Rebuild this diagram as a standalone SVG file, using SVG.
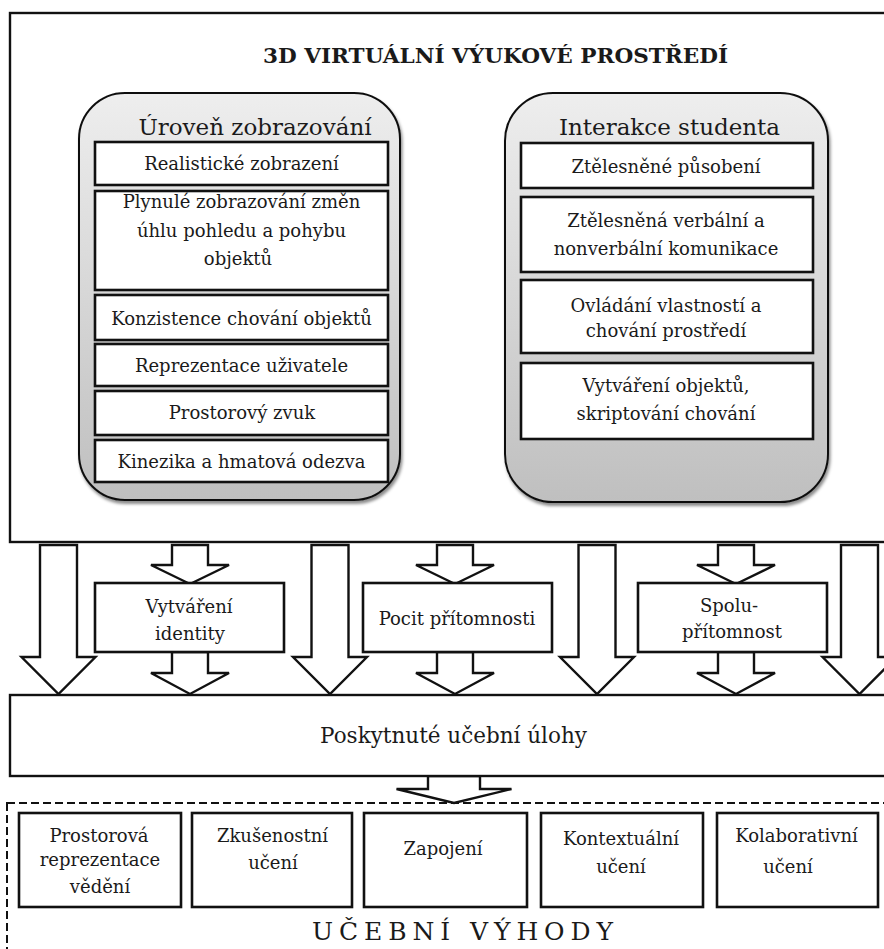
<svg xmlns="http://www.w3.org/2000/svg" width="884" height="949" viewBox="0 0 884 949" font-family="DejaVu Serif, serif">
<style>
text{font-family:'DejaVu Serif','Liberation Serif',serif;fill:#1a1a1a;}
.t{font-size:18px;text-anchor:middle;}
.h{font-size:23px;text-anchor:middle;}
.box{fill:#fff;stroke:#111;stroke-width:2.6;}
.frame{fill:#fff;stroke:#111;stroke-width:2.4;}
.panel{fill:url(#pg);stroke:#111;stroke-width:2;filter:url(#sh);}
.arr{fill:#fff;stroke:#111;stroke-width:2.4;stroke-linejoin:miter;}
.dash{fill:none;stroke:#111;stroke-width:2;stroke-dasharray:8 4;}
</style>
<defs>
<linearGradient id="pg" x1="0" y1="0" x2="0" y2="1">
<stop offset="0" stop-color="#eeeeee"/>
<stop offset="1" stop-color="#bfbfbf"/>
</linearGradient>
<filter id="sh" x="-10%" y="-10%" width="120%" height="120%">
<feDropShadow dx="1.5" dy="3" stdDeviation="1.8" flood-color="#000" flood-opacity="0.45"/>
</filter>
<path id="bigArrow" d="M-18.5,0 H18.5 V112 H37 L0,149 L-37,112 H-18.5 Z"/>
<path id="smallTop" d="M-18,0 H18 V20 H39 L0,39 L-39,20 H-18 Z"/>
<path id="smallBot" d="M-18,0 H18 V21 H39 L0,42 L-39,21 H-18 Z"/>
</defs>
<rect width="884" height="949" fill="#fff"/>

<g id="env">
<rect class="frame" x="10" y="13" width="900" height="529"/>
<text x="495.5" y="63" font-size="20.5" font-weight="bold" text-anchor="middle" textLength="465" lengthAdjust="spacingAndGlyphs">3D VIRTUÁLNÍ VÝUKOVÉ PROSTŘEDÍ</text>
</g>

<g id="panel-zobrazovani">
<rect class="panel" x="79" y="93" width="321" height="407" rx="46" ry="46"/>
<text class="h" x="255" y="135">Úroveň zobrazování</text>
</g>
<g id="n-realisticke"><rect class="box" x="95" y="142" width="293" height="43"/><text class="t" x="241.5" y="170">Realistické zobrazení</text></g>
<g id="n-plynule"><rect class="box" x="95" y="191" width="293" height="99"/>
<text class="t" x="241.5" y="208">Plynulé zobrazování změn</text>
<text class="t" x="241.5" y="237">úhlu pohledu a pohybu</text>
<text class="t" x="238" y="265">objektů</text></g>
<g id="n-konzistence"><rect class="box" x="95" y="295" width="293" height="45"/><text class="t" x="241.5" y="325">Konzistence chování objektů</text></g>
<g id="n-reprezentace"><rect class="box" x="95" y="344" width="293" height="42"/><text class="t" x="241.5" y="372">Reprezentace uživatele</text></g>
<g id="n-zvuk"><rect class="box" x="95" y="391" width="293" height="44"/><text class="t" x="242" y="419">Prostorový zvuk</text></g>
<g id="n-kinezika"><rect class="box" x="95" y="440" width="293" height="42"/><text class="t" x="241.5" y="468">Kinezika a hmatová odezva</text></g>

<g id="panel-interakce">
<rect class="panel" x="505" y="93" width="323" height="409" rx="48" ry="48"/>
<text class="h" x="669.5" y="135">Interakce studenta</text>
</g>
<g id="n-pusobeni"><rect class="box" x="521" y="143" width="292" height="45"/><text class="t" x="666" y="173">Ztělesněné působení</text></g>
<g id="n-komunikace"><rect class="box" x="521" y="197" width="292" height="75"/>
<text class="t" x="666" y="227">Ztělesněná verbální a</text>
<text class="t" x="666" y="255">nonverbální komunikace</text></g>
<g id="n-ovladani"><rect class="box" x="521" y="280" width="292" height="73"/>
<text class="t" x="666" y="312">Ovládání vlastností a</text>
<text class="t" x="666" y="337">chování prostředí</text></g>
<g id="n-vytvareni-obj"><rect class="box" x="521" y="363" width="292" height="76"/>
<text class="t" x="666" y="392">Vytváření objektů,</text>
<text class="t" x="666" y="420">skriptování chování</text></g>

<g id="connectors">
<use href="#bigArrow" class="arr" x="58.5" y="545"/>
<use href="#bigArrow" class="arr" x="330" y="545"/>
<use href="#bigArrow" class="arr" x="597" y="545"/>
<use href="#bigArrow" class="arr" x="859.5" y="545"/>
<use href="#smallTop" class="arr" x="190" y="545"/>
<use href="#smallTop" class="arr" x="455" y="545"/>
<use href="#smallTop" class="arr" x="736" y="545"/>
<use href="#smallBot" class="arr" x="190" y="652"/>
<use href="#smallBot" class="arr" x="455" y="652"/>
<use href="#smallBot" class="arr" x="736" y="652"/>
<path class="arr" d="M428,776 H480 V789 H511.5 L454,803 L396.5,789 H428 Z"/>
</g>

<g id="n-identita"><rect class="box" x="95" y="583" width="189" height="69"/>
<text class="t" x="189" y="613">Vytváření</text>
<text class="t" x="190" y="640">identity</text></g>
<g id="n-pritomnost"><rect class="box" x="363" y="583" width="189" height="69"/>
<text class="t" x="457" y="625">Pocit přítomnosti</text></g>
<g id="n-spolupritomnost"><rect class="box" x="638" y="583" width="189" height="69"/>
<text class="t" x="729" y="612">Spolu-</text>
<text class="t" x="732" y="638">přítomnost</text></g>

<g id="n-ulohy"><rect class="frame" x="10" y="695" width="900" height="81"/>
<text x="453.5" y="743" font-size="21.5" text-anchor="middle">Poskytnuté učební úlohy</text></g>

<g id="vyhody">
<rect class="dash" x="7" y="803" width="900" height="160"/>
<text x="312" y="940" font-size="25" textLength="301" lengthAdjust="spacing">UČEBNÍ VÝHODY</text>
</g>
<g id="n-prostorova"><rect class="box" x="19" y="813" width="162" height="94"/>
<text class="t" x="99" y="842">Prostorová</text>
<text class="t" x="100" y="866">reprezentace</text>
<text class="t" x="100" y="893">vědění</text></g>
<g id="n-zkusenostni"><rect class="box" x="192" y="813" width="160" height="94"/>
<text class="t" x="272.5" y="842">Zkušenostní</text>
<text class="t" x="273" y="869">učení</text></g>
<g id="n-zapojeni"><rect class="box" x="364" y="813" width="163" height="94"/>
<text class="t" x="443" y="855">Zapojení</text></g>
<g id="n-kontextualni"><rect class="box" x="541" y="813" width="162" height="94"/>
<text class="t" x="621" y="845">Kontextuální</text>
<text class="t" x="621" y="873">učení</text></g>
<g id="n-kolaborativni"><rect class="box" x="717" y="813" width="161" height="94"/>
<text class="t" x="796.5" y="842">Kolaborativní</text>
<text class="t" x="788" y="873">učení</text></g>
</svg>
